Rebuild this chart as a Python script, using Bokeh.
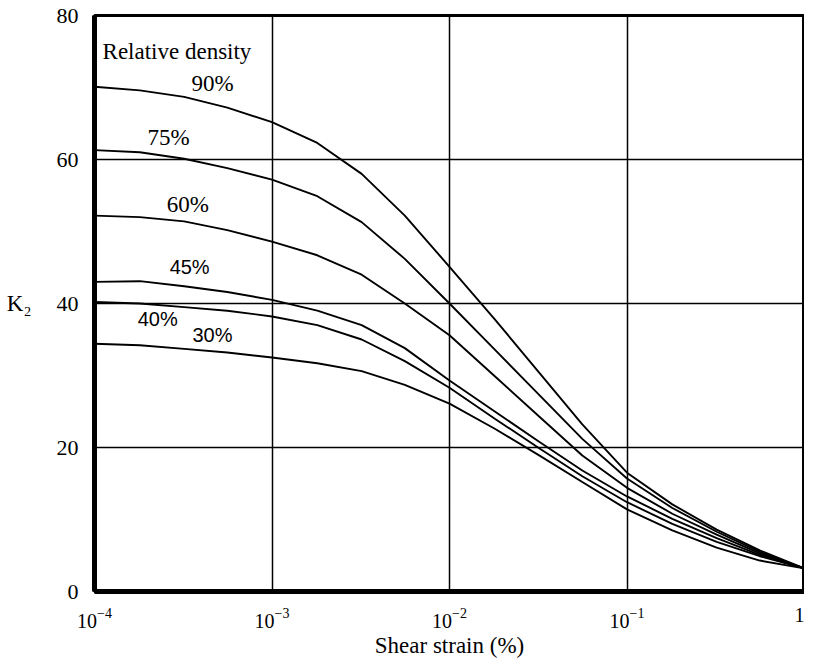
from bokeh.plotting import figure
from bokeh.models import FixedTicker, ColumnDataSource
from bokeh.core.properties import value
from bokeh.embed import file_html
from bokeh.resources import INLINE

# ---- data ----
strain = [0.0001, 0.00018, 0.00032, 0.00056, 0.001, 0.0018, 0.0032, 0.0056,
          0.01, 0.018, 0.032, 0.056, 0.1, 0.18, 0.32, 0.56, 1.0]
k2_90 = [70.1, 69.6, 68.7, 67.2, 65.2, 62.3, 58.0, 52.2, 45.1, 37.8, 30.4, 23.2, 16.5, 12.1, 8.6, 5.7, 3.2]
k2_75 = [61.3, 61.0, 60.1, 58.8, 57.2, 54.9, 51.3, 46.2, 40.0, 33.6, 27.3, 21.2, 15.7, 11.6, 8.3, 5.5, 3.2]
k2_60 = [52.2, 52.0, 51.4, 50.2, 48.6, 46.7, 44.0, 40.0, 35.6, 29.9, 24.3, 18.9, 14.4, 10.8, 7.9, 5.3, 3.2]
k2_45 = [43.0, 43.1, 42.4, 41.6, 40.5, 39.0, 37.0, 33.8, 29.3, 25.0, 20.8, 16.8, 13.2, 10.1, 7.4, 5.1, 3.2]
k2_40 = [40.2, 40.0, 39.5, 39.0, 38.2, 37.0, 35.0, 32.0, 28.3, 24.0, 19.9, 16.0, 12.4, 9.4, 6.9, 4.9, 3.2]
k2_30 = [34.4, 34.2, 33.7, 33.2, 32.5, 31.7, 30.6, 28.7, 26.1, 22.6, 18.9, 15.2, 11.4, 8.5, 6.1, 4.3, 3.2]

series = [k2_90, k2_75, k2_60, k2_45, k2_40, k2_30]

x_ticks = [0.0001, 0.001, 0.01, 0.1, 1.0]
y_ticks = [0, 20, 40, 60, 80]

# curve labels
serif_labels = ["Relative density", "90%", "75%", "60%"]
serif_lx = [0.000111, 0.000352, 0.000199, 0.000255]
serif_ly = [75.0, 70.6, 63.1, 53.7]
sans_labels = ["45%", "40%", "30%"]
sans_lx = [0.000265, 0.000175, 0.000356]
sans_ly = [45.1, 37.8, 35.6]

SERIF = "Liberation Serif"

p = figure(x_axis_type="log", x_range=(0.0001, 1.0), y_range=(0, 80),
           frame_width=710, frame_height=576,
           min_border_left=94, min_border_top=15, min_border_right=0,
           min_border_bottom=56,
           output_backend="svg", toolbar_location=None)

p.background_fill_color = "white"
p.border_fill_color = "white"
p.outline_line_color = "black"
p.outline_line_width = 3

for ys in series:
    p.line(strain, ys, line_color="black", line_width=1.9)

src1 = ColumnDataSource(dict(x=serif_lx, y=serif_ly, t=serif_labels))
p.text(x="x", y="y", text="t", source=src1, text_font=value(SERIF),
       text_font_size="23px", text_baseline="middle", text_align="left",
       text_color="black")
src2 = ColumnDataSource(dict(x=sans_lx, y=sans_ly, t=sans_labels))
p.text(x="x", y="y", text="t", source=src2, text_font=value("Liberation Sans"),
       text_font_size="20px", text_baseline="middle", text_align="left",
       text_color="black")

# axes
p.xaxis.ticker = FixedTicker(ticks=x_ticks)
p.xaxis.major_label_overrides = {1: "1"}
p.yaxis.ticker = FixedTicker(ticks=y_ticks)
for ax in (p.xaxis, p.yaxis):
    ax.axis_line_color = "black"
    ax.axis_line_width = 5
    ax.major_tick_line_color = None
    ax.minor_tick_line_color = None
    ax.major_label_text_font = SERIF
    ax.major_label_text_color = "black"
    ax.axis_label_text_font = SERIF
    ax.axis_label_text_font_size = "23px"
    ax.axis_label_text_font_style = "normal"
    ax.axis_label_text_color = "black"

p.yaxis.major_label_text_font_size = "22px"
p.xaxis.major_label_text_font_size = "20px"
p.yaxis.major_label_standoff = 10
p.xaxis.major_label_standoff = 10
p.xaxis.axis_label = "Shear strain (%)"
p.xaxis.axis_label_standoff = 2
p.yaxis.axis_label = "K₂"
p.yaxis.axis_label_orientation = "horizontal"
p.yaxis.axis_label_standoff = 22

p.xgrid.ticker = FixedTicker(ticks=x_ticks)
p.ygrid.ticker = FixedTicker(ticks=[20, 40, 60])
p.xgrid.grid_line_color = "black"
p.ygrid.grid_line_color = "black"
p.xgrid.grid_line_width = 1.5
p.ygrid.grid_line_width = 1.5
p.xgrid.grid_line_alpha = 1.0
p.ygrid.grid_line_alpha = 1.0

open("out.html", "w").write(file_html(p, INLINE))
